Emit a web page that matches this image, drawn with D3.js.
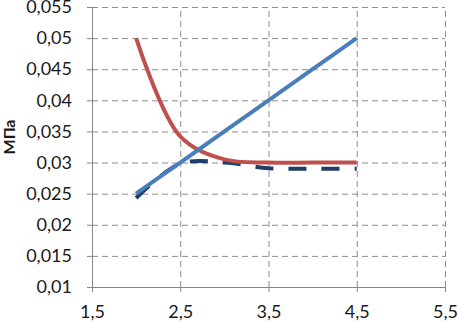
<!DOCTYPE html>
<html>
<head>
<meta charset="utf-8">
<script src="https://cdn.jsdelivr.net/npm/d3@7"></script>
<style>
  body { margin: 0; background: #fff; }
  svg { display: block; }
</style>
</head>
<body>
<div id="chart"></div>
<script>
// data
const xValues = [2, 2.5, 3, 3.5, 4, 4.5];
const blueSolid = [0.025, 0.030, 0.035, 0.040, 0.045, 0.050];
const redCurve = [0.050, 0.0342, 0.0305, 0.030, 0.030, 0.030];
const navyDashed = [0.0243, 0.0298, 0.030, 0.0291, 0.029, 0.029];

const xTicks = [1.5, 2.5, 3.5, 4.5, 5.5];
const yTicks = [0.01, 0.015, 0.02, 0.025, 0.03, 0.035, 0.04, 0.045, 0.05, 0.055];
const yLabel = "МПа";

const width = 458;
const height = 323;
const marginTop = 7;
const marginRight = 13;
const marginBottom = 36;
const marginLeft = 92;

const axisColor = "#868686";
const gridColor = "#8c8c8c";
const fontFamily = "Lato, 'Open Sans', sans-serif";

const x = d3.scaleLinear()
    .domain([1.5, 5.5])
    .range([marginLeft, width - marginRight]);

const y = d3.scaleLinear()
    .domain([0.01, 0.055])
    .range([height - marginBottom, marginTop]);

const fmt = (d) => String(+d.toFixed(3)).replace(".", ",");

const svg = d3.select("#chart")
    .append("svg")
    .attr("width", width)
    .attr("height", height);

// horizontal grid
svg.append("g")
    .attr("transform", `translate(${marginLeft},0)`)
    .call(d3.axisLeft(y).tickValues(yTicks.slice(1)).tickSize(-(width - marginLeft - marginRight)).tickFormat(""))
    .call((g) => g.select(".domain").remove())
    .call((g) => g.selectAll(".tick line")
        .attr("stroke", gridColor)
        .attr("stroke-width", 1)
        .attr("stroke-dasharray", "6,4"));

// vertical grid
svg.append("g")
    .attr("transform", `translate(0,${height - marginBottom})`)
    .call(d3.axisBottom(x).tickValues(xTicks.slice(1)).tickSize(-(height - marginTop - marginBottom)).tickFormat(""))
    .call((g) => g.select(".domain").remove())
    .call((g) => g.selectAll(".tick line")
        .attr("stroke", gridColor)
        .attr("stroke-width", 1)
        .attr("stroke-dasharray", "6,4"));

// x axis
svg.append("g")
    .attr("transform", `translate(0,${height - marginBottom})`)
    .call(d3.axisBottom(x).tickValues(xTicks).tickSize(5).tickSizeOuter(0).tickPadding(13).tickFormat(fmt))
    .call((g) => g.select(".domain").attr("stroke", axisColor))
    .call((g) => g.selectAll(".tick line").attr("stroke", axisColor))
    .call((g) => g.selectAll(".tick text")
        .attr("fill", "#1a1a1a")
        .style("font-family", fontFamily)
        .style("font-size", "18px"));

// y axis
svg.append("g")
    .attr("transform", `translate(${marginLeft},0)`)
    .call(d3.axisLeft(y).tickValues(yTicks).tickSize(5).tickSizeOuter(0).tickPadding(15).tickFormat(fmt))
    .call((g) => g.select(".domain").attr("stroke", axisColor))
    .call((g) => g.selectAll(".tick line").attr("stroke", axisColor))
    .call((g) => g.selectAll(".tick text")
        .attr("fill", "#1a1a1a")
        .style("font-family", fontFamily)
        .style("font-size", "18px"));

// y label
svg.append("text")
    .attr("transform", "translate(15,137) rotate(-90)")
    .attr("text-anchor", "middle")
    .style("font-family", fontFamily)
    .style("font-size", "16px")
    .style("font-weight", "bold")
    .attr("fill", "#1a1a1a")
    .text(yLabel);

const line = d3.line()
    .x((d) => x(d[0]))
    .y((d) => y(d[1]))
    .curve(d3.curveCatmullRom);

const series = [
    { values: navyDashed, color: "#1f3d6b", dash: "18,15" },
    { values: redCurve, color: "#c0504d", dash: null },
    { values: blueSolid, color: "#4a7ebb", dash: null },
];

series.forEach((s) => {
    svg.append("path")
        .datum(xValues.map((v, i) => [v, s.values[i]]))
        .attr("fill", "none")
        .attr("stroke", s.color)
        .attr("stroke-width", 4)
        .attr("stroke-dasharray", s.dash)
        .attr("d", line);
});
</script>
</body>
</html>
